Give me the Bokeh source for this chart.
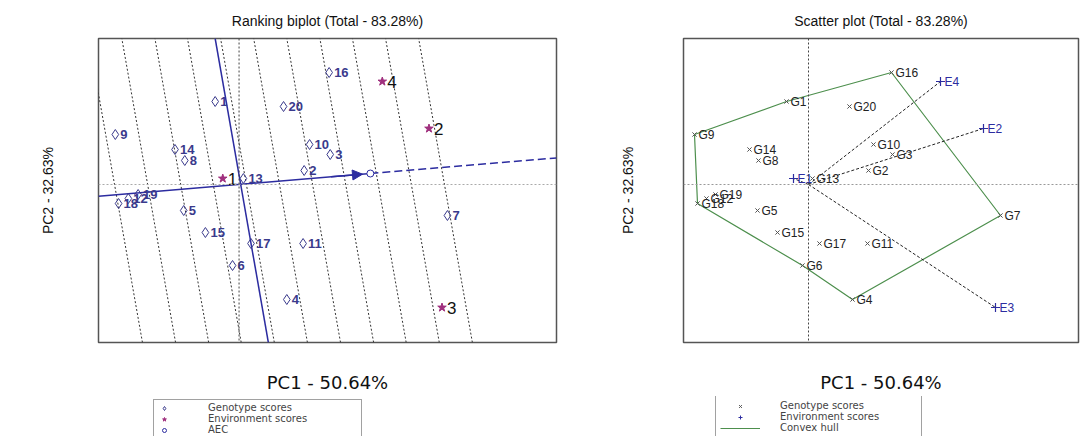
from bokeh.plotting import figure
from bokeh.layouts import row, column
from bokeh.models import (ColumnDataSource, Span, Legend, LegendItem, Arrow,
                          NormalHead, FixedTicker)
from bokeh.embed import file_html
from bokeh.resources import INLINE
from bokeh.core.properties import value

# ---------------- data (PC scores) ----------------
genotypes = [str(i) for i in range(1, 21)]
gen_pc1 = [-0.44, 1.20, 1.68, 0.88, -1.02, -0.12, 3.84, -1.00, -2.28, 1.30,
           1.18, -2.04, 0.08, -1.18, -0.62, 1.66, 0.22, -2.22, -1.86, 0.82]
gen_pc2 = [1.66, 0.28, 0.60, -2.30, -0.52, -1.62, -0.62, 0.48, 1.00, 0.80,
           -1.18, -0.28, 0.12, 0.70, -0.96, 2.24, -1.18, -0.38, -0.20, 1.56]

environments = ["1", "2", "3", "4"]
env_pc1 = [-0.30, 3.50, 3.74, 2.64]
env_pc2 = [0.12, 1.12, -2.46, 2.06]

# average environment coordinate (AEC)
aec_pc1 = 2.42
aec_pc2 = 0.22
# AEC ordinate end points
aec_ord_pc1 = [-0.44, 0.54]
aec_ord_pc2 = [2.92, -3.16]
# dotted ranking guides (PC1 at the bottom edge) and their tilt over the height
guide_pc1_bottom = [-1.78, -1.17, -0.56, 0.04, 0.65, 1.26, 1.87, 2.48, 3.08, 3.69, 4.30]
guide_tilt = 0.99

hull_order = ["16", "7", "4", "6", "18", "9", "1", "16"]

title_rank = "Ranking biplot (Total - 83.28%)"
title_scatter = "Scatter plot (Total - 83.28%)"
xlab = "PC1 - 50.64%"
ylab = "PC2 - 32.63%"
legend_rank = ["Genotype scores", "Environment scores", "AEC"]
legend_scatter = ["Genotype scores", "Environment scores", "Convex hull"]

Y_RANGE = (-3.16, 2.92)
FONT = "Liberation Sans"
BLUE = "#2c2ca0"
GEN_BLUE = "#3a3a8c"
PURPLE = "#a0307e"
GREEN = "#4d8f4d"
TOP_H = 396
LEG_H = 40


def base_fig(width, xr, ml, mr, title, ystand):
    p = figure(width=width, height=TOP_H, x_range=xr, y_range=Y_RANGE,
               output_backend="svg", toolbar_location=None,
               min_border_left=ml, min_border_right=mr,
               min_border_top=38, min_border_bottom=TOP_H - 38 - 304)
    p.grid.visible = False
    p.title.text = title
    p.title.align = "center"
    p.title.text_font = FONT
    p.title.text_font_size = "14px"
    p.title.text_font_style = "normal"
    p.title.text_color = "#111"
    p.title.standoff = 20
    for ax in (p.xaxis[0], p.yaxis[0]):
        ax.ticker = FixedTicker(ticks=[])
        ax.axis_line_color = None
        ax.major_tick_line_color = None
        ax.minor_tick_line_color = None
        ax.major_label_standoff = 0
        ax.major_tick_out = 0
        ax.axis_label_text_font_style = "normal"
        ax.axis_label_text_color = "#111"
    p.xaxis.axis_label = xlab
    p.xaxis.axis_label_text_font = "DejaVu Sans"
    p.xaxis.axis_label_text_font_size = "18px"
    p.xaxis.axis_label_standoff = 29
    p.yaxis.axis_label = ylab
    p.yaxis.axis_label_text_font = FONT
    p.yaxis.axis_label_text_font_size = "14px"
    p.yaxis.axis_label_standoff = ystand
    p.outline_line_color = "#555"
    p.outline_line_width = 1.5
    return p


def legend_fig(width):
    q = figure(width=width, height=LEG_H, x_range=(0, 1), y_range=(0, 1),
               output_backend="svg", toolbar_location=None,
               x_axis_location=None, y_axis_location=None,
               min_border=0, min_border_left=0, min_border_right=0,
               min_border_top=0, min_border_bottom=0)
    q.grid.visible = False
    q.outline_line_color = None
    return q


def style_legend(leg, pad, gw, stand, lw):
    leg.label_text_font = "DejaVu Sans"
    leg.label_text_font_size = "10px"
    leg.label_height = 10
    leg.glyph_height = 10
    leg.glyph_width = gw
    leg.label_width = lw
    leg.spacing = 0
    leg.padding = pad
    leg.margin = 0
    leg.label_standoff = stand
    leg.border_line_color = "#444"
    leg.border_line_width = 1
    leg.background_fill_color = "white"


gsrc = ColumnDataSource(dict(x=gen_pc1, y=gen_pc2, lab=genotypes,
                             glab=["G" + g for g in genotypes]))
esrc = ColumnDataSource(dict(x=env_pc1, y=env_pc2, lab=environments,
                             elab=["E" + e for e in environments]))
# legend-only renderers sit outside the (0, 1) range of the legend strip
OFF = [5]

# ---------------- left: ranking biplot ----------------
p1 = base_fig(600, (-2.59, 5.85), 98, 44, title_rank, 43)

y0, y1 = Y_RANGE
p1.segment(x0=guide_pc1_bottom, y0=[y0] * len(guide_pc1_bottom),
           x1=[g - guide_tilt for g in guide_pc1_bottom], y1=[y1] * len(guide_pc1_bottom),
           line_color="#333", line_dash="2 2", line_width=1)
p1.add_layout(Span(location=0, dimension="width", line_color="#aaa", line_dash="2 2", line_width=1))
p1.add_layout(Span(location=0, dimension="height", line_color="#444", line_dash="2 2", line_width=1))

slope = aec_pc2 / aec_pc1
xr1 = p1.x_range
p1.line([xr1.start, aec_pc1], [xr1.start * slope, aec_pc2], line_color=BLUE, line_width=1.5)
p1.line([aec_pc1, xr1.end], [aec_pc2, xr1.end * slope], line_color=BLUE, line_width=1.5,
        line_dash="8 4")
p1.line(aec_ord_pc1, aec_ord_pc2, line_color=BLUE, line_width=1.5)
p1.add_layout(Arrow(end=NormalHead(size=10, fill_color=BLUE, line_color=BLUE),
                    x_start=aec_pc1 * 0.7, y_start=aec_pc2 * 0.7,
                    x_end=aec_pc1 * 0.94, y_end=aec_pc2 * 0.94,
                    line_color=BLUE, line_width=1.5))

p1.scatter("x", "y", source=gsrc, marker="diamond", size=10,
           fill_color=None, line_color=GEN_BLUE, line_width=1)
p1.text("x", "y", text="lab", source=gsrc, x_offset=5, text_baseline="middle",
        text_font=value(FONT), text_font_size="13px", text_font_style="bold",
        text_color=GEN_BLUE)
p1.scatter("x", "y", source=esrc, marker="star", size=9,
           fill_color=PURPLE, line_color=PURPLE)
p1.text("x", "y", text="lab", source=esrc, x_offset=5, text_baseline="middle",
        text_font=value(FONT), text_font_size="17px", text_color="#111")
p1.scatter([aec_pc1], [aec_pc2], marker="circle", size=7,
           fill_color="white", line_color=BLUE, line_width=1)

l1 = legend_fig(600)
lr_gen = l1.scatter(x=OFF, y=OFF, marker="diamond", size=9, fill_color=None,
                    line_color=GEN_BLUE)
lr_env = l1.scatter(x=OFF, y=OFF, marker="star", size=8, fill_color=PURPLE,
                    line_color=PURPLE)
lr_aec = l1.scatter(x=OFF, y=OFF, marker="circle", size=6, fill_color="white",
                    line_color=BLUE)
leg1 = Legend(items=[LegendItem(label=legend_rank[0], renderers=[lr_gen]),
                     LegendItem(label=legend_rank[1], renderers=[lr_env]),
                     LegendItem(label=legend_rank[2], renderers=[lr_aec])],
              location=(55, -2))
style_legend(leg1, 2, 16, 36, 151)
l1.add_layout(leg1)

# ---------------- right: scatter plot ----------------
p2 = base_fig(488, (-2.5, 5.4), 83, 10, title_scatter, 48)
p2.add_layout(Span(location=0, dimension="width", line_color="#999", line_dash="2 2", line_width=1))
p2.add_layout(Span(location=0, dimension="height", line_color="#444", line_dash="2 2", line_width=1))

idx = {g: i for i, g in enumerate(genotypes)}
p2.line([gen_pc1[idx[g]] for g in hull_order], [gen_pc2[idx[g]] for g in hull_order],
        line_color=GREEN, line_width=1.2)
p2.segment(x0=[0] * 4, y0=[0] * 4, x1=env_pc1, y1=env_pc2,
           line_color="#222", line_dash="3 2", line_width=1)

p2.scatter("x", "y", source=gsrc, marker="x", size=6, line_color="#555", line_width=1)
p2.text("x", "y", text="glab", source=gsrc, x_offset=4, text_baseline="middle",
        text_font=value(FONT), text_font_size="12px", text_color="#222")
p2.scatter("x", "y", source=esrc, marker="cross", size=9, line_color=BLUE,
           line_width=1.2)
p2.text("x", "y", text="elab", source=esrc, x_offset=4, text_baseline="middle",
        text_font=value(FONT), text_font_size="12px", text_color=BLUE)

l2 = legend_fig(488)
lr_gen2 = l2.scatter(x=OFF, y=OFF, marker="x", size=6, line_color="#555")
lr_env2 = l2.scatter(x=OFF, y=OFF, marker="cross", size=8, line_color=BLUE)
lr_hull = l2.line(x=OFF, y=OFF, line_color=GREEN, line_width=1.2)
leg2 = Legend(items=[LegendItem(label=legend_scatter[0], renderers=[lr_gen2]),
                     LegendItem(label=legend_scatter[1], renderers=[lr_env2]),
                     LegendItem(label=legend_scatter[2], renderers=[lr_hull])],
              location=(32, -2))
style_legend(leg2, 4, 40, 20, 137)
l2.add_layout(leg2)

layout = row(column(p1, l1), column(p2, l2))
open("out.html", "w").write(file_html(layout, INLINE))
